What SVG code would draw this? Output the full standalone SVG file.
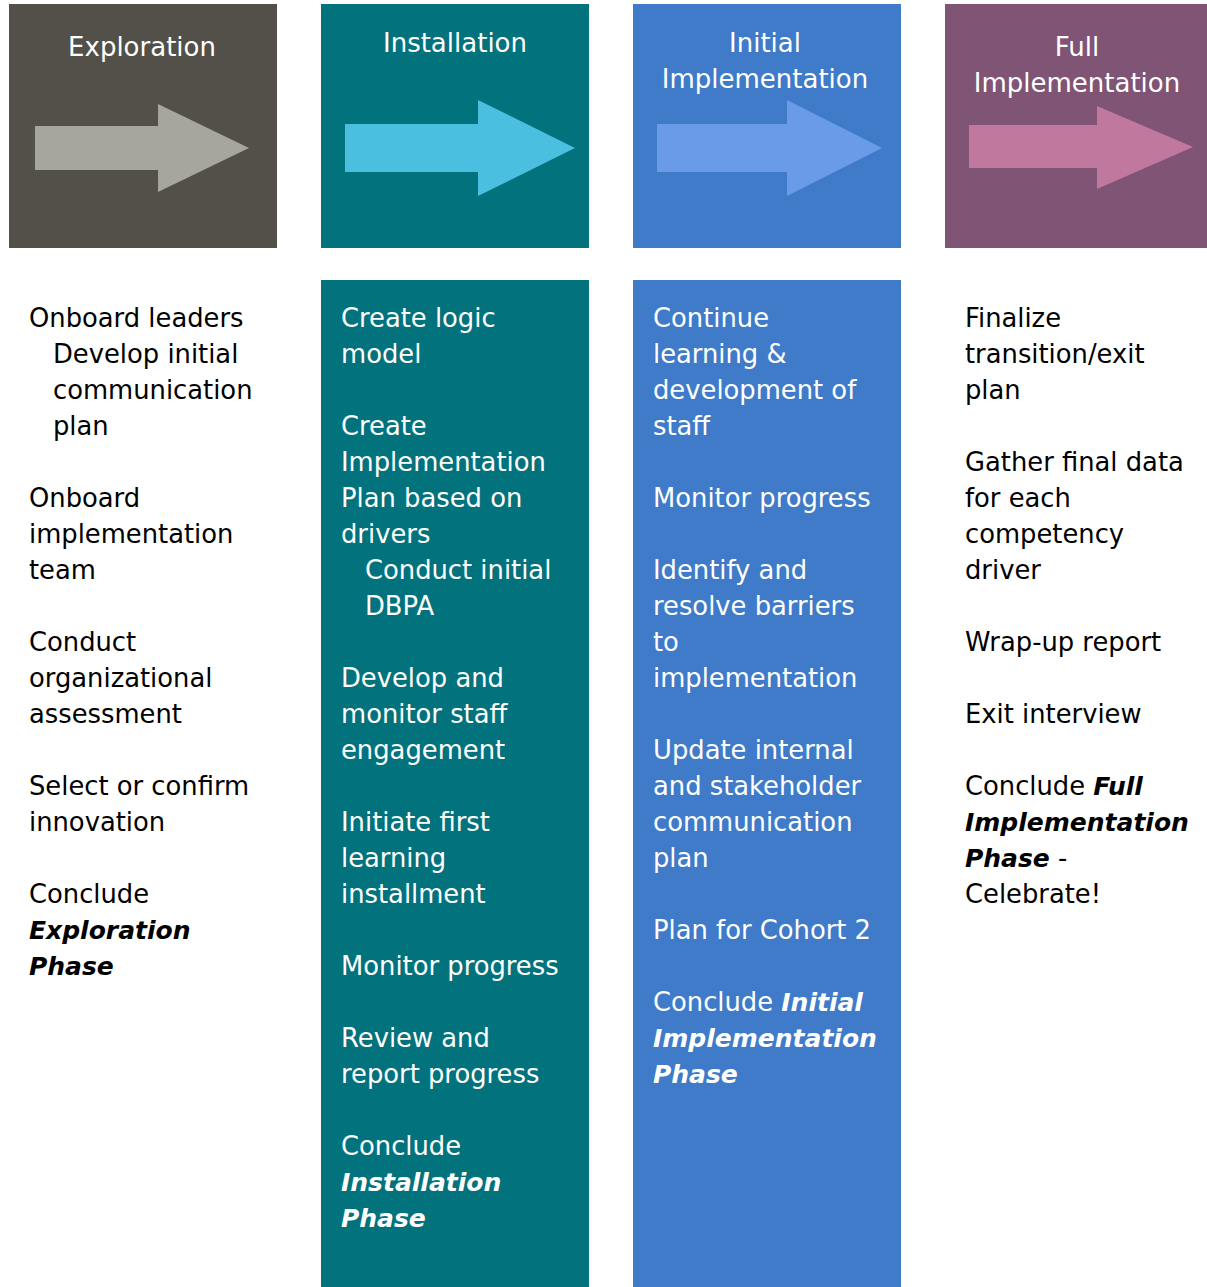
<svg xmlns="http://www.w3.org/2000/svg" width="1207" height="1287" viewBox="0 0 1207 1287">
  <style>
    text { font-family: "DejaVu Sans", "Noto Sans", sans-serif; font-size: 25.8px; }
    .hd { fill: #ffffff; text-anchor: middle; font-size: 26px; }
    .dk { fill: #000000; }
    .lt { fill: #ffffff; }
    .em { font-weight: bold; font-style: italic; font-size: 25px; }
  </style>
  <rect width="1207" height="1287" fill="#ffffff"/>

  <!-- phase headers -->
  <g id="phase-exploration">
    <rect x="9" y="4" width="268" height="244" fill="#525048"/>
    <text class="hd" x="142" y="56">Exploration</text>
    <polygon points="35,126 158,126 158,104 249,148 158,192 158,170 35,170" fill="#a6a69c"/>
  </g>
  <g id="phase-installation">
    <rect x="321" y="4" width="268" height="244" fill="#02727c"/>
    <text class="hd" x="455" y="52">Installation</text>
    <polygon points="345,124 478,124 478,100 575,148 478,196 478,172 345,172" fill="#4bbfe0"/>
  </g>
  <g id="phase-initial">
    <rect x="633" y="4" width="268" height="244" fill="#3f7bc8"/>
    <text class="hd" x="765" y="52">Initial</text>
    <text class="hd" x="765" y="88">Implementation</text>
    <polygon points="657,124 787,124 787,100 882,148 787,196 787,172 657,172" fill="#6a9be8"/>
  </g>
  <g id="phase-full">
    <rect x="945" y="4" width="262" height="244" fill="#805474"/>
    <text class="hd" x="1077" y="56">Full</text>
    <text class="hd" x="1077" y="92">Implementation</text>
    <polygon points="969,125 1097,125 1097,106 1193,147 1097,189 1097,168 969,168" fill="#c0789e"/>
  </g>

  <!-- activity lists -->
  <g id="list-exploration" class="dk">
    <text x="29" y="327">Onboard leaders</text>
    <text x="53" y="363">Develop initial</text>
    <text x="53" y="399">communication</text>
    <text x="53" y="435">plan</text>
    <text x="29" y="507">Onboard</text>
    <text x="29" y="543">implementation</text>
    <text x="29" y="579">team</text>
    <text x="29" y="651">Conduct</text>
    <text x="29" y="687">organizational</text>
    <text x="29" y="723">assessment</text>
    <text x="29" y="795">Select or confirm</text>
    <text x="29" y="831">innovation</text>
    <text x="29" y="903">Conclude</text>
    <text x="29" y="939" class="em">Exploration</text>
    <text x="29" y="975" class="em">Phase</text>
  </g>

  <g id="list-installation">
    <rect x="321" y="280" width="268" height="1007" fill="#02727c"/>
    <g class="lt">
      <text x="341" y="327">Create logic</text>
      <text x="341" y="363">model</text>
      <text x="341" y="435">Create</text>
      <text x="341" y="471">Implementation</text>
      <text x="341" y="507">Plan based on</text>
      <text x="341" y="543">drivers</text>
      <text x="365" y="579">Conduct initial</text>
      <text x="365" y="615">DBPA</text>
      <text x="341" y="687">Develop and</text>
      <text x="341" y="723">monitor staff</text>
      <text x="341" y="759">engagement</text>
      <text x="341" y="831">Initiate first</text>
      <text x="341" y="867">learning</text>
      <text x="341" y="903">installment</text>
      <text x="341" y="975">Monitor progress</text>
      <text x="341" y="1047">Review and</text>
      <text x="341" y="1083">report progress</text>
      <text x="341" y="1155">Conclude</text>
      <text x="341" y="1191" class="em">Installation</text>
      <text x="341" y="1227" class="em">Phase</text>
    </g>
  </g>

  <g id="list-initial">
    <rect x="633" y="280" width="268" height="1007" fill="#3f7bc8"/>
    <g class="lt">
      <text x="653" y="327">Continue</text>
      <text x="653" y="363">learning &amp;</text>
      <text x="653" y="399">development of</text>
      <text x="653" y="435">staff</text>
      <text x="653" y="507">Monitor progress</text>
      <text x="653" y="579">Identify and</text>
      <text x="653" y="615">resolve barriers</text>
      <text x="653" y="651">to</text>
      <text x="653" y="687">implementation</text>
      <text x="653" y="759">Update internal</text>
      <text x="653" y="795">and stakeholder</text>
      <text x="653" y="831">communication</text>
      <text x="653" y="867">plan</text>
      <text x="653" y="939">Plan for Cohort 2</text>
      <text x="653" y="1011">Conclude <tspan class="em">Initial</tspan></text>
      <text x="653" y="1047" class="em">Implementation</text>
      <text x="653" y="1083" class="em">Phase</text>
    </g>
  </g>

  <g id="list-full" class="dk">
    <text x="965" y="327">Finalize</text>
    <text x="965" y="363">transition/exit</text>
    <text x="965" y="399">plan</text>
    <text x="965" y="471">Gather final data</text>
    <text x="965" y="507">for each</text>
    <text x="965" y="543">competency</text>
    <text x="965" y="579">driver</text>
    <text x="965" y="651">Wrap-up report</text>
    <text x="965" y="723">Exit interview</text>
    <text x="965" y="795">Conclude <tspan class="em">Full</tspan></text>
    <text x="965" y="831" class="em">Implementation</text>
    <text x="965" y="867"><tspan class="em">Phase</tspan> -</text>
    <text x="965" y="903">Celebrate!</text>
  </g>

  <!-- no connectors between phases; arrows are part of each header -->
  <g id="connectors"/>
</svg>
